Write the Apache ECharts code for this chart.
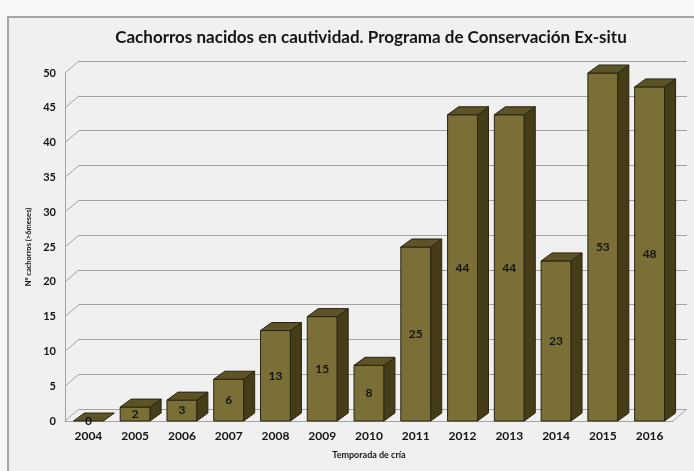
<!DOCTYPE html>
<html>
<head>
<meta charset="utf-8">
<script src="https://cdn.jsdelivr.net/npm/echarts@6/dist/echarts.min.js"></script>
<style>
html,body{margin:0;padding:0;background:#f7f7f7;}
#c{width:694px;height:471px;}
</style>
</head>
<body>
<div id="c"></div>
<script>
const titleText = 'Cachorros nacidos en cautividad. Programa de Conservación Ex-situ';
const years = ['2004','2005','2006','2007','2008','2009','2010','2011','2012','2013','2014','2015','2016'];
const cubs = [0, 2, 3, 6, 13, 15, 8, 25, 44, 44, 23, 53, 48];
const yTicks = [0, 5, 10, 15, 20, 25, 30, 35, 40, 45, 50];
const yName = 'Nº cachorros (>6meses)';
const xName = 'Temporada de cría';

const Y_MAX = 50;
const DEPTH_X = 11, DEPTH_Y = 8;      // bar depth
const WALL_X = 14, WALL_Y = 12;       // back wall offset
const gridCol = '#a3a3a3';
const txtCol = '#141414';
const boldFont = 'Lato, "Open Sans", sans-serif';

const chart = echarts.init(document.getElementById('c'), null, {renderer: 'canvas'});

const option = {
  backgroundColor: 'transparent',
  animation: false,
  graphic: [
    {type: 'rect', z: -10, shape: {x: 8, y: 17, width: 700, height: 470},
     style: {fill: '#f0f0f0', stroke: '#a6a6a6', lineWidth: 2}},
    {type: 'text', z: 10,
     style: {text: titleText, x: 371, y: 38, align: 'center', verticalAlign: 'middle',
       font: 'bold 17px Lato, "Open Sans", sans-serif', fill: txtCol}}
  ],
  grid: [
    {left: 65, right: 21, top: 73, bottom: 50},
    {left: 79, right: 7, top: 61, bottom: 62}
  ],
  xAxis: [
    {type: 'category', gridIndex: 0, data: years,
     axisLine: {show: true, lineStyle: {color: gridCol, width: 1}},
     axisTick: {show: false},
     axisLabel: {margin: 9, fontFamily: boldFont, fontWeight: 'bold', fontSize: 12, color: txtCol},
     name: xName, nameLocation: 'middle', nameGap: 30,
     nameTextStyle: {fontFamily: boldFont, fontWeight: 'bold', fontSize: 9, color: txtCol}},
    {type: 'category', gridIndex: 1, data: years, show: false}
  ],
  yAxis: [
    {type: 'value', gridIndex: 0, min: 0, max: Y_MAX, interval: 5,
     axisLine: {show: true, lineStyle: {color: gridCol, width: 1}},
     axisTick: {show: false},
     splitLine: {show: false},
     axisLabel: {margin: 9, fontFamily: boldFont, fontWeight: 'bold', fontSize: 11, color: txtCol},
     name: yName, nameLocation: 'middle', nameGap: 27, nameRotate: 90,
     nameTextStyle: {fontFamily: boldFont, fontWeight: 'bold', fontSize: 7.5, color: txtCol}},
    {type: 'value', gridIndex: 1, min: 0, max: Y_MAX, interval: 5,
     axisLine: {show: false}, axisTick: {show: false}, axisLabel: {show: false},
     splitLine: {show: true, lineStyle: {color: gridCol, width: 1}}}
  ],
  series: [
    {
      type: 'custom', xAxisIndex: 0, yAxisIndex: 0, silent: true, z: 1,
      data: yTicks.map(v => [0, v]),
      renderItem: function (params, api) {
        const cs = params.coordSys;
        const p = api.coord([0, api.value(1)]);
        const x0 = cs.x, y = p[1];
        const children = [{type: 'line', shape: {x1: x0, y1: y, x2: x0 + WALL_X, y2: y - WALL_Y},
          style: {stroke: gridCol, lineWidth: 1}}];
        if (api.value(1) === 0) {
          const xr = cs.x + cs.width;
          children.push({type: 'line', shape: {x1: xr, y1: y, x2: xr + WALL_X, y2: y - WALL_Y},
            style: {stroke: gridCol, lineWidth: 1}});
        }
        return {type: 'group', children: children};
      }
    },
    {
      type: 'custom', xAxisIndex: 0, yAxisIndex: 0, z: 5,
      data: cubs.map((v, i) => [i, v]),
      renderItem: function (params, api) {
        const idx = api.value(0);
        const val = api.value(1);
        const shown = Math.min(val, Y_MAX);
        const base = api.coord([idx, 0]);
        const top = api.coord([idx, shown]);
        const w = api.size([1, 0])[0] * 0.64;
        const xl = base[0] - w / 2, xr = base[0] + w / 2;
        const yb = base[1], yt = top[1];
        const stroke = '#2a2410';
        const children = [];
        if (yb - yt > 0.5) {
          children.push({type: 'polygon', shape: {points: [[xl, yt], [xr, yt], [xr, yb], [xl, yb]]},
            style: {fill: '#7a7037', stroke: stroke, lineWidth: 1}});
          children.push({type: 'polygon', shape: {points: [[xr, yt], [xr + DEPTH_X, yt - DEPTH_Y], [xr + DEPTH_X, yb - DEPTH_Y], [xr, yb]]},
            style: {fill: '#453c18', stroke: stroke, lineWidth: 1}});
        }
        children.push({type: 'polygon', shape: {points: [[xl, yt], [xr, yt], [xr + DEPTH_X, yt - DEPTH_Y], [xl + DEPTH_X, yt - DEPTH_Y]]},
          style: {fill: '#5c5327', stroke: stroke, lineWidth: 1}});
        const ly = yb - yt > 0.5 ? (yb + yt) / 2 : yb;
        children.push({type: 'text', z2: 10, style: {text: String(val), x: base[0], y: ly,
          align: 'center', verticalAlign: 'middle',
          font: 'bold 12px Lato, "Open Sans", sans-serif', fill: txtCol}});
        return {type: 'group', children: children};
      }
    },
    {type: 'custom', xAxisIndex: 1, yAxisIndex: 1, data: [], renderItem: function () { return null; }}
  ]
};
chart.setOption(option);
</script>
</body>
</html>
